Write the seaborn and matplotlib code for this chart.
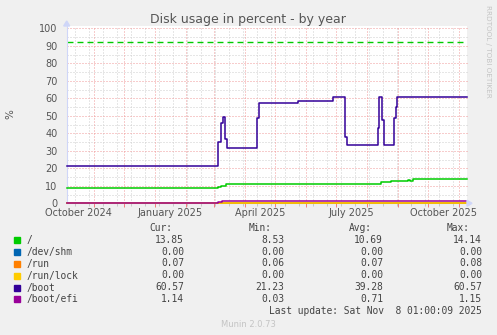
import matplotlib
matplotlib.use("Agg")
import matplotlib.pyplot as plt
import matplotlib.dates as mdates
from matplotlib.patches import Rectangle, Polygon
import seaborn as sns
import pandas as pd
import numpy as np

# ---------------- data ----------------
series_names = ["/", "/dev/shm", "/run", "/run/lock", "/boot", "/boot/efi"]
series_colors = ["#00CC00", "#0066B3", "#FF8000", "#FFCC00", "#330099", "#990099"]

END = "2025-11-08 01:00"

root_dates = ["2024-10-04 05:00", "2025-01-10", "2025-01-22", "2025-01-24", "2025-01-26",
              "2025-02-14", "2025-02-22", "2025-03-01", "2025-03-05", "2025-03-08",
              "2025-03-13", "2025-04-23", "2025-05-05", "2025-05-07", "2025-07-09",
              "2025-08-11", "2025-08-15", "2025-08-25", "2025-09-11", "2025-09-13",
              "2025-09-16", "2025-10-28", "2025-10-31", END]
root_values = [8.53, 9.0, 8.6, 9.0, 8.6,
               9.0, 8.6, 9.0, 9.6, 10.1,
               10.9, 11.05, 10.9, 11.05, 10.85,
               11.3, 12.3, 12.8, 13.2, 12.9,
               13.7, 14.14, 13.85, 13.85]

shm_dates = ["2024-10-04 05:00", END]
shm_values = [0.0, 0.0]

run_dates = ["2024-10-04 05:00", "2025-03-08", END]
run_values = [0.06, 0.07, 0.07]

lock_dates = ["2024-10-04 05:00", END]
lock_values = [0.0, 0.0]

boot_dates = ["2024-10-04 05:00", "2025-03-04 18:00", "2025-03-07 12:00", "2025-03-09 12:00",
              "2025-03-11 12:00", "2025-03-13 12:00", "2025-04-12 12:00", "2025-04-14 12:00",
              "2025-05-24", "2025-06-28", "2025-07-09 12:00", "2025-07-11 12:00",
              "2025-08-11 12:00", "2025-08-13", "2025-08-15 12:00", "2025-08-18",
              "2025-08-28", "2025-08-30", "2025-08-31", END]
boot_values = [21.23, 34.9, 46.0, 49.1,
               36.6, 31.4, 48.6, 57.1,
               58.6, 60.57, 38.0, 33.3,
               42.9, 60.57, 47.6, 33.3,
               48.6, 55.0, 60.57, 60.57]

efi_dates = ["2024-10-04 05:00", "2025-03-04 12:00", "2025-03-09", END]
efi_values = [0.03, 0.57, 1.14, 1.14]

warning_level = 92

cur_vals = ["13.85", "0.00", "0.07", "0.00", "60.57", "1.14"]
min_vals = ["8.53", "0.00", "0.06", "0.00", "21.23", "0.03"]
avg_vals = ["10.69", "0.00", "0.07", "0.00", "39.28", "0.71"]
max_vals = ["14.14", "0.00", "0.08", "0.00", "60.57", "1.15"]

month_labels = ["October 2024", "January 2025", "April 2025", "July 2025", "October 2025"]
month_label_dates = ["2024-10-16", "2025-01-16", "2025-04-16", "2025-07-16", "2025-10-16"]
y_ticks = list(range(0, 101, 10))

# ---------------- frame ----------------
all_dates = [root_dates, shm_dates, run_dates, lock_dates, boot_dates, efi_dates]
all_vals = [root_values, shm_values, run_values, lock_values, boot_values, efi_values]
rows = []
for name, ds, vs in zip(series_names, all_dates, all_vals):
    for d, v in zip(ds, vs):
        rows.append({"date": pd.Timestamp(d), "value": v, "series": name})
df = pd.DataFrame(rows)

W, H = 497, 335
BG = "#F0F0F0"
FONT = "#555555"

def fx(x):
    return x / W

def fy(y):
    return 1 - y / H

fig = plt.figure(figsize=(W / 100, H / 100), dpi=100, facecolor=BG)
left, right, top, bottom = 66.7, 466.7, 26.0, 203.3
ax = fig.add_axes([fx(left), fy(bottom), (right - left) / W, (bottom - top) / H])
ax.set_facecolor("white")

x0 = pd.Timestamp("2024-10-04 05:00")
x1 = pd.Timestamp("2025-11-08 05:00")
ax.set_xlim(x0, x1)
ax.set_ylim(0, (bottom - top) / 1.75)

# grid
minor_lines = pd.date_range("2024-10-13", "2025-11-08", freq="14D")
major_lines = pd.date_range("2024-11-01", "2025-11-01", freq="MS")
ax.set_xticks(major_lines)
ax.set_xticks(minor_lines, minor=True)
ax.set_xticklabels([])
ax.set_yticks(y_ticks)
ax.set_yticks(list(range(5, 101, 10)), minor=True)
ax.grid(False)
DOT = (0, (1, 2))
for d in minor_lines:
    ax.axvline(d, color="#CFCFCF", lw=0.72, ls=DOT, zorder=0)
for v in range(5, 101, 10):
    ax.axhline(v, color="#CFCFCF", lw=0.72, ls=DOT, zorder=0)
for d in major_lines:
    ax.axvline(d, color="#F09A9A", lw=0.72, ls=DOT, zorder=0.5)
for v in y_ticks[1:]:
    ax.axhline(v, color="#F09A9A", lw=0.72, ls=DOT, zorder=0.5)

ax.tick_params(axis="x", which="major", length=3, width=0.72, color="#F08080", direction="out")
ax.tick_params(axis="x", which="minor", length=2, width=0.72, color="#C8C8C8", direction="out")
ax.tick_params(axis="y", which="both", length=0, pad=6.5, labelsize=7, labelcolor=FONT)
ax.set_yticklabels([str(v) for v in y_ticks])
for lab, d in zip(month_labels, month_label_dates):
    ax.text(pd.Timestamp(d), -5.5, lab, ha="center", va="center", fontsize=7, color=FONT,
            clip_on=False)

for s in ["top", "right"]:
    ax.spines[s].set_visible(False)
for s in ["left", "bottom"]:
    ax.spines[s].set_color("#CFD6F8")
    ax.spines[s].set_linewidth(0.8)

# arrows
fig.patches.append(Polygon([[fx(left - 3), fy(26)], [fx(left + 3), fy(26)], [fx(left), fy(21)]],
                           closed=True, transform=fig.transFigure, color="#CFD6F8", zorder=5))
fig.patches.append(Polygon([[fx(467), fy(bottom - 3)], [fx(467), fy(bottom + 3)], [fx(472), fy(bottom)]],
                           closed=True, transform=fig.transFigure, color="#CFD6F8", zorder=5))

# data lines
ax.axhline(warning_level, color="#00CC00", lw=1.0, dashes=(4.3, 2.9), zorder=2)
sns.lineplot(data=df, x="date", y="value", hue="series", hue_order=series_names,
             palette=dict(zip(series_names, series_colors)), drawstyle="steps-post",
             linewidth=1.1, legend=False, ax=ax, sort=True, estimator=None, zorder=3)
for ln in ax.lines:
    ln.set_clip_on(False)
ax.set_xlabel("")
ax.set_ylabel("")

# title, labels
fig.text(fx(248), fy(19), "Disk usage in percent - by year", ha="center", va="center",
         fontsize=9, color=FONT)
fig.text(fx(10), fy(114), "%", rotation=90, ha="center", va="center", fontsize=7.5, color=FONT)
fig.text(fx(488), fy(5), "RRDTOOL / TOBI OETIKER", rotation=270, ha="center", va="top",
         fontsize=5.2, color="#C4C4C4")

# legend
mono = "DejaVu Sans Mono"
LS = 6.9
LC = "#444444"
hy = 227.7
for txt, xr in zip(["Cur:", "Min:", "Avg:", "Max:"], [172, 272, 372, 470]):
    fig.text(fx(xr), fy(hy), txt, ha="right", va="center", family=mono, fontsize=LS, color=LC)
row_y = [239.7, 251.7, 263.5, 275.5, 287.5, 299.4]
for i, name in enumerate(series_names):
    yy = row_y[i]
    fig.patches.append(Rectangle((fx(14), fy(yy + 3)), 6 / W, 6 / H, transform=fig.transFigure,
                                 color=series_colors[i]))
    fig.text(fx(27), fy(yy), name, ha="left", va="center", family=mono, fontsize=LS, color=LC)
    for vals, xr in zip([cur_vals, min_vals, avg_vals, max_vals], [184, 284, 383, 482]):
        fig.text(fx(xr), fy(yy), vals[i], ha="right", va="center", family=mono, fontsize=LS, color=LC)
fig.text(fx(482), fy(311.2), "Last update: Sat Nov  8 01:00:09 2025", ha="right", va="center",
         family=mono, fontsize=LS, color=LC)
fig.text(fx(248), fy(324.3), "Munin 2.0.73", ha="center", va="center", fontsize=6, color="#C4C4C4")

fig.savefig("out.png", dpi=100, facecolor=BG)
